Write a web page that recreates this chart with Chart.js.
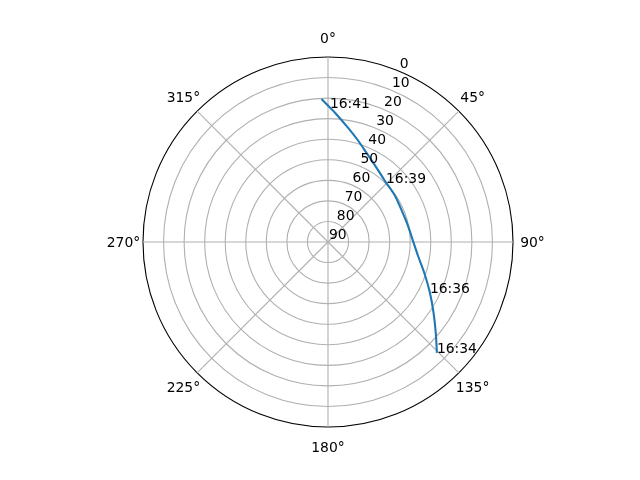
<!DOCTYPE html>
<html lang="en">
<head>
  <meta charset="UTF-8" />
  <title>Pass sky plot</title>
  <script src="https://cdn.jsdelivr.net/npm/chart.js@4.4.1"></script>
  <style>
    html, body { margin:0; padding:0; background:#fff; }
    canvas { display:block; }
  </style>
</head>
<body>
<canvas id="myChart" width="640" height="480"></canvas>

<script>
  // track, in time order (azimuth deg, elevation deg)
  var trackAz = [135.5, 129.9, 123.6, 116.5, 108.9, 99.4, 89.9, 79.3, 67.7, 55.0,
                 44.3, 40.2, 30.8, 23.1, 16.5, 10.0, 3.0, 0.8, 357.4];
  var trackEl = [14.4, 21.7, 28.4, 34.6, 40.1, 45.4, 48.5, 50.2, 51.0, 50.4,
                 49.6, 48.8, 46.0, 42.6, 38.5, 33.6, 26.9, 24.6, 20.4];

  // time marks: text and which track point they sit on
  var timeText = ['16:34', '16:36', '16:39', '16:41'];
  var timeIdx  = [0, 3, 10, 17];

  var azLabels = ['0°', '45°', '90°', '135°', '180°', '225°', '270°', '315°'];
  var elTicks  = [0, 10, 20, 30, 40, 50, 60, 70, 80, 90];

  var FONT = '13.9px "DejaVu Sans"';

  // polar -> plane, zenith in the middle, north up, clockwise
  function toXY(az, el){
    var r = 90 - el, a = az * Math.PI / 180;
    return { x: r * Math.sin(a), y: r * Math.cos(a) };
  }
  var pts = trackAz.map(function(a, i){ return toXY(a, trackEl[i]); });

  var polarText = {
    id: 'polarText',
    afterDraw: function(chart){
      var c = chart.ctx, r = chart.scales.r, meta = chart.getDatasetMeta(0);
      var i, p;
      c.save();
      c.font = FONT;
      c.fillStyle = '#000';
      c.textBaseline = 'alphabetic';

      // azimuth labels round the rim
      c.textAlign = 'center';
      for (i = 0; i < azLabels.length; i++){
        p = r.getPointPosition(i, r.drawingArea + 19.5);
        c.fillText(azLabels[i], p.x, p.y + 5);
      }

      // elevation labels along the 22.5 deg line
      c.textAlign = 'left';
      for (i = 0; i < elTicks.length; i++){
        p = r.getPointPosition(0.5, r.getDistanceFromCenterForValue(90 - elTicks[i]));
        c.fillText(String(elTicks[i]), p.x + 1, p.y - 2.6);
      }

      // times on the track
      for (i = 0; i < timeText.length; i++){
        p = meta.data[timeIdx[i]];
        c.fillText(timeText[i], p.x, p.y);
      }
      c.restore();
    }
  };

  new Chart(document.getElementById('myChart'), {
    type: 'scatter',
    data: {
      labels: azLabels,
      datasets: [{
        data: pts,
        showLine: true,
        tension: 0.3,
        borderColor: '#1f77b4',
        borderWidth: 2.1,
        borderJoinStyle: 'round',
        pointRadius: 0,
        pointHoverRadius: 0
      }]
    },
    options: {
      responsive: false,
      animation: false,
      events: [],
      layout: { padding: { left: 143, right: 127, top: 57, bottom: 53 } },
      plugins: { legend: { display: false }, tooltip: { enabled: false } },
      scales: {
        x: { type: 'linear', min: -90, max: 90, display: false },
        y: { type: 'linear', min: -90, max: 90, display: false },
        r: {
          type: 'radialLinear',
          min: 0, max: 90,
          startAngle: 0,
          ticks: { display: false, stepSize: 10 },
          pointLabels: { display: false },
          angleLines: { color: '#b0b0b0', lineWidth: 1.1 },
          grid: {
            circular: true,
            lineWidth: 1.1,
            color: function(ctx){ return ctx.tick && ctx.tick.value === 90 ? '#000000' : '#b0b0b0'; }
          }
        }
      }
    },
    plugins: [polarText]
  });
</script>
</body>
</html>
